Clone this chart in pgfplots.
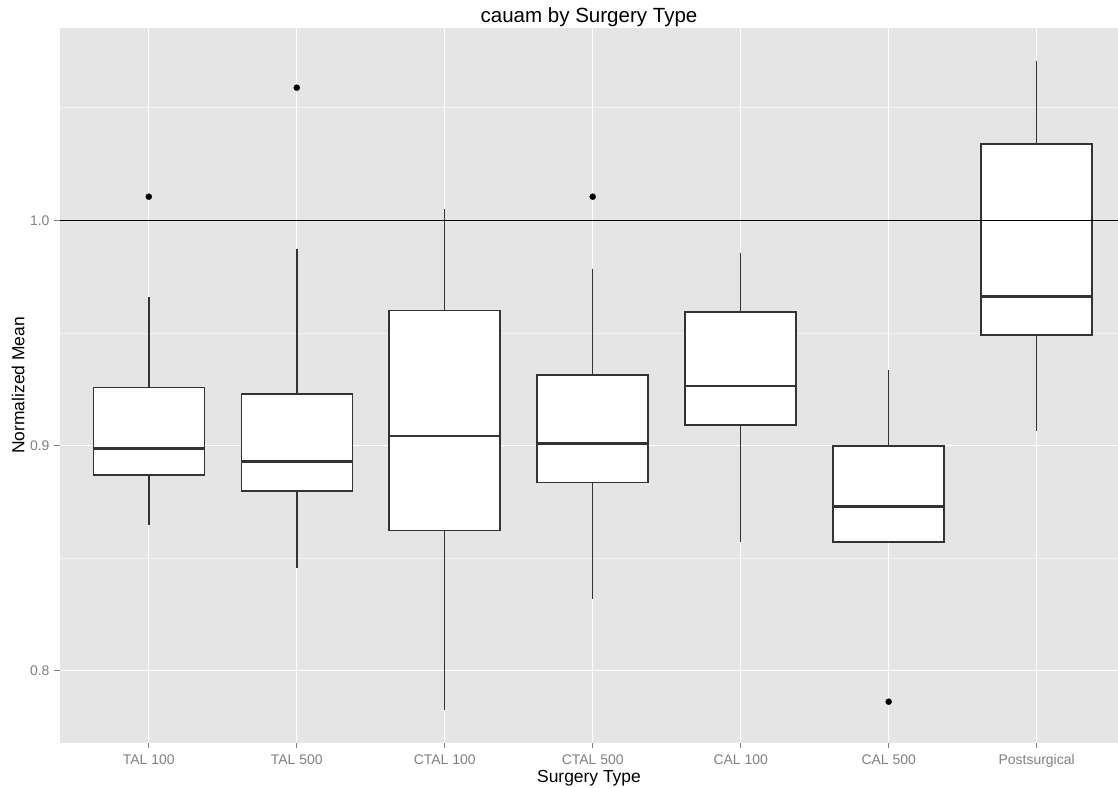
\documentclass[border=0pt]{standalone}
\usepackage{fontspec}
\setmainfont{Liberation Sans}
\usepackage{pgfplots}
\pgfplotsset{compat=1.18}
\usepgfplotslibrary{statistics}
\definecolor{panel}{HTML}{E5E5E5}
\definecolor{minorgrid}{HTML}{F2F2F2}
\definecolor{ticktext}{HTML}{7F7F7F}
\definecolor{boxline}{HTML}{333333}
\pgfplotsset{
  mybox/.style={draw=boxline, fill=white, line width=1.5bp,
    boxplot/draw direction=y,
    boxplot/box extend=0.75, boxplot/whisker extend=0,
    boxplot/every whisker/.style={draw=boxline, line width=1.5bp},
    boxplot/every box/.style={draw=boxline, fill=white, line width=1.5bp},
    boxplot/every median/.style={draw=boxline, line width=2.7bp}},
}
\begin{document}
\begin{tikzpicture}
\useasboundingbox (-60bp,-45.3bp) rectangle (1058bp,742.7bp);
\begin{axis}[
  name=ax, at={(0,0)}, anchor=south west,
  scale only axis, width=1058bp, height=714.7bp,
  xmin=0.4, xmax=7.55, ymin=0.7681, ymax=1.0854,
  xtick={1,2,3,4,5,6,7},
  xticklabels={TAL 100,TAL 500,CTAL 100,CTAL 500,CAL 100,CAL 500,Postsurgical},
  ytick={0.8,0.9,1.0}, yticklabels={0.8,0.9,1.0},
  minor ytick={0.85,0.95,1.05},
  xmajorgrids, ymajorgrids, yminorgrids,
  major grid style={white, line width=1.1bp},
  minor grid style={minorgrid, line width=0.6bp},
  axis background/.style={fill=panel},
  axis line style={draw=none},
  tick align=outside, major tick length=5.6bp, minor tick length=0pt,
  xtick pos=bottom, ytick pos=left,
  tick style={ticktext, line width=1.1bp},
  tick label style={font=\fontsize{14}{16}\selectfont, text=ticktext},
  xticklabel style={anchor=base, yshift=-16bp},
  yticklabel style={xshift=-1.4bp},
]
\addplot[mybox, boxplot prepared={draw position=1, lower whisker=0.8648, lower quartile=0.8870, median=0.8988, upper quartile=0.9259, upper whisker=0.9658}] coordinates {};
\addplot[mybox, boxplot prepared={draw position=2, lower whisker=0.8458, lower quartile=0.8798, median=0.8929, upper quartile=0.9229, upper whisker=0.9871}] coordinates {};
\addplot[mybox, boxplot prepared={draw position=3, lower whisker=0.7826, lower quartile=0.8624, median=0.9043, upper quartile=0.9599, upper whisker=1.0051}] coordinates {};
\addplot[mybox, boxplot prepared={draw position=4, lower whisker=0.8319, lower quartile=0.8837, median=0.9008, upper quartile=0.9313, upper whisker=0.9785}] coordinates {};
\addplot[mybox, boxplot prepared={draw position=5, lower whisker=0.8571, lower quartile=0.9091, median=0.9265, upper quartile=0.9594, upper whisker=0.9854}] coordinates {};
\addplot[mybox, boxplot prepared={draw position=6, lower whisker=0.8571, lower quartile=0.8571, median=0.8729, upper quartile=0.8998, upper whisker=0.9336}] coordinates {};
\addplot[mybox, boxplot prepared={draw position=7, lower whisker=0.9065, lower quartile=0.9490, median=0.9661, upper quartile=1.0339, upper whisker=1.0708}] coordinates {};
\addplot[only marks, mark=*, mark size=3bp, black] coordinates {(1,1.0105) (2,1.0589) (4,1.0105) (6,0.7863)};
\addplot[black, line width=1.1bp] coordinates {(0.4,1.0) (7.55,1.0)};
\end{axis}
\node[anchor=base, font=\fontsize{20.6}{24}\selectfont] at ([yshift=5bp]ax.north) {cauam by Surgery Type};
\node[anchor=base, font=\fontsize{17.5}{20}\selectfont] at ([yshift=-39.3bp]ax.south) {Surgery Type};
\node[anchor=base, rotate=90, font=\fontsize{17.5}{20}\selectfont] at ([xshift=-35.7bp]ax.west) {Normalized Mean};
\end{tikzpicture}
\end{document}
